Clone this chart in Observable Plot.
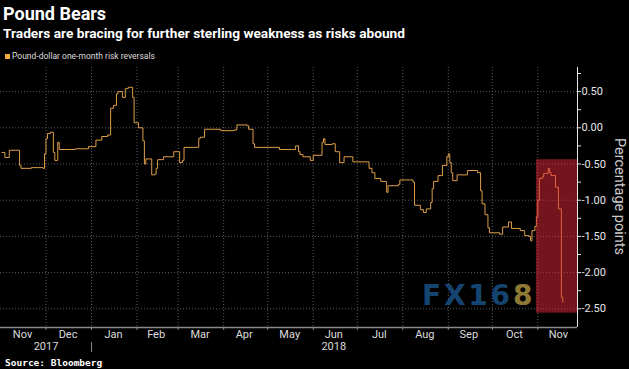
<!DOCTYPE html>
<html><head><meta charset="utf-8">
<script src="https://cdn.jsdelivr.net/npm/d3@7"></script>
<script src="https://cdn.jsdelivr.net/npm/@observablehq/plot@0.6"></script>
<style>
html,body{margin:0;padding:0;background:#000;width:629px;height:369px;overflow:hidden;font-family:Roboto,sans-serif;}
#wrap{position:relative;width:629px;height:369px;}
#title{position:absolute;left:3px;top:5px;font-weight:bold;font-size:18px;line-height:18px;color:#fff;white-space:nowrap;}
#subtitle{position:absolute;left:3px;top:26px;font-weight:bold;font-size:13.7px;line-height:14px;color:#fff;white-space:nowrap;}
#legend{position:absolute;left:5px;top:52px;font-size:8.5px;line-height:9px;color:#ddd;white-space:nowrap;}
#legend span.sw{display:inline-block;width:5px;height:5px;background:#f5a83c;margin-right:2px;vertical-align:0px;}
#chart{position:absolute;left:0;top:62px;}
#ylabel{position:absolute;left:611px;top:138px;writing-mode:vertical-rl;font-size:14.5px;line-height:16px;color:#ccc;white-space:nowrap;}
#source{position:absolute;left:5px;top:357px;font-family:"DejaVu Sans Mono",monospace;font-weight:bold;font-size:9.5px;line-height:11px;color:#fff;white-space:nowrap;}
#wm{position:absolute;left:422px;top:281px;font-family:"DejaVu Sans",sans-serif;font-weight:bold;font-size:28px;line-height:30px;letter-spacing:2.8px;white-space:nowrap;}
#wm .b{color:#154470;}
#wm .g{color:#8f7834;}
</style></head>
<body><div id="wrap">
<div id="title">Pound Bears</div>
<div id="subtitle">Traders are bracing for further sterling weakness as risks abound</div>
<div id="legend"><span class="sw"></span>Pound-dollar one-month risk reversals</div>
<div id="chart"></div>
<div id="ylabel">Percentage points</div>
<div id="wm"><span class="b">FX16</span><span class="g">8</span></div>
<div id="source">Source: Bloomberg</div>
</div>
<script>
const dates = ["2017-11-01","2017-11-03","2017-11-06","2017-11-13","2017-11-14","2017-11-21","2017-11-29","2017-11-30",
"2017-12-01","2017-12-02","2017-12-04","2017-12-06","2017-12-07","2017-12-09","2017-12-10","2017-12-21","2017-12-30",
"2018-01-04","2018-01-08","2018-01-12","2018-01-14","2018-01-16","2018-01-18","2018-01-19","2018-01-22","2018-01-24","2018-01-26","2018-01-29","2018-01-30",
"2018-02-02","2018-02-05","2018-02-06","2018-02-07","2018-02-11","2018-02-13","2018-02-14","2018-02-15","2018-02-19","2018-02-26",
"2018-03-02","2018-03-04","2018-03-05","2018-03-14","2018-03-15","2018-03-16","2018-03-19","2018-03-30",
"2018-04-08","2018-04-10","2018-04-17","2018-04-18","2018-04-21","2018-04-22",
"2018-05-07","2018-05-09","2018-05-18","2018-05-20","2018-05-22","2018-05-23","2018-05-25","2018-05-30",
"2018-06-01","2018-06-07","2018-06-08","2018-06-09","2018-06-14","2018-06-16","2018-06-19","2018-06-22","2018-06-26","2018-06-28",
"2018-07-08","2018-07-09","2018-07-11","2018-07-13","2018-07-17","2018-07-21","2018-07-22","2018-07-29","2018-07-30",
"2018-08-08","2018-08-09","2018-08-13","2018-08-15","2018-08-17","2018-08-20","2018-08-21","2018-08-22","2018-08-25","2018-08-28","2018-08-31",
"2018-09-01","2018-09-02","2018-09-03","2018-09-04","2018-09-07","2018-09-14","2018-09-21","2018-09-23","2018-09-24","2018-09-26","2018-09-28","2018-09-29",
"2018-10-06","2018-10-08","2018-10-12","2018-10-14","2018-10-20","2018-10-23","2018-10-26","2018-10-27","2018-10-28","2018-10-30","2018-10-31",
"2018-11-01","2018-11-02","2018-11-04","2018-11-05","2018-11-07","2018-11-08","2018-11-09","2018-11-10","2018-11-13","2018-11-15","2018-11-17","2018-11-18"];
const values = [-0.34,-0.41,-0.31,-0.52,-0.56,-0.55,-0.56,-0.36,
-0.15,-0.08,-0.06,-0.34,-0.45,-0.20,-0.30,-0.29,-0.26,
-0.17,-0.12,-0.10,0.27,0.31,0.47,0.50,0.42,0.54,0.56,0.42,0.07,
0.00,-0.18,-0.50,-0.43,-0.65,-0.64,-0.56,-0.44,-0.40,-0.33,
-0.48,-0.45,-0.27,-0.27,-0.15,-0.13,-0.02,-0.04,
-0.03,0.04,0.03,-0.02,-0.22,-0.27,
-0.27,-0.30,-0.30,-0.25,-0.33,-0.37,-0.40,-0.45,
-0.38,-0.20,-0.15,-0.23,-0.22,-0.33,-0.48,-0.40,-0.40,-0.47,
-0.47,-0.56,-0.62,-0.70,-0.74,-0.89,-0.80,-0.78,-0.72,
-0.75,-1.07,-1.13,-1.17,-1.12,-1.03,-0.84,-0.74,-0.66,-0.52,-0.40,
-0.36,-0.48,-0.62,-0.73,-0.65,-0.59,-0.62,-0.87,-1.05,-1.20,-1.38,-1.45,
-1.47,-1.37,-1.30,-1.39,-1.42,-1.49,-1.50,-1.56,-1.42,-1.36,-1.23,
-1.00,-0.70,-0.68,-0.63,-0.63,-0.56,-0.62,-0.66,-0.82,-1.12,-2.34,-2.41];

const xDomain = ["2017-10-31","2018-11-28"];
const yDomain = [-2.758, 0.833];
const yTicks = [-2.5,-2.0,-1.5,-1.0,-0.5,0.0,0.5];
const yMinorTicks = [-2.25,-1.75,-1.25,-0.75,-0.25,0.25,0.75];
const monthStarts = ["2017-12-01","2018-01-01","2018-02-01","2018-03-01","2018-04-01","2018-05-01","2018-06-01","2018-07-01","2018-08-01","2018-09-01","2018-10-01","2018-11-01"];
const monthMids = ["2017-11-15","2017-12-16","2018-01-16","2018-02-14","2018-03-16","2018-04-15","2018-05-16","2018-06-15","2018-07-16","2018-08-16","2018-09-15","2018-10-16","2018-11-15"];
const monthLabels = ["Nov","Dec","Jan","Feb","Mar","Apr","May","Jun","Jul","Aug","Sep","Oct","Nov"];
const yearMids = ["2017-12-01","2018-06-15"];
const yearLabels = ["2017","2018"];
const yearBreaks = ["2018-01-01"];
const boxX = ["2018-10-31","2018-11-28"];
const boxY = [-0.44, -2.56];

const D = s => new Date(s);
const data = dates.map((d,i) => ({date: D(d), value: values[i]}));
const monthLabelMap = new Map(monthMids.map((d,i)=>[+D(d), monthLabels[i]]));
const yearLabelMap = new Map(yearMids.map((d,i)=>[+D(d), yearLabels[i]]));
const box = [{x1: D(boxX[0]), x2: D(boxX[1]), y1: boxY[0], y2: boxY[1]}];

const chart = Plot.plot({
  width: 629, height: 293,
  marginLeft: 0, marginRight: 52, marginTop: 5, marginBottom: 28,
  style: {background: "transparent", color: "#ddd", fontFamily: "Roboto, sans-serif", fontSize: "11px"},
  x: {type: "utc", domain: xDomain.map(D)},
  y: {domain: yDomain},
  marks: [
    Plot.gridY(yTicks, {stroke: "#5a5a5a", strokeOpacity: 1, strokeDasharray: "1,2"}),
    Plot.gridX(monthStarts.map(D), {stroke: "#5a5a5a", strokeOpacity: 1, strokeDasharray: "1,2"}),
    Plot.line(data, {x: "date", y: "value", stroke: "#de9e4a", strokeWidth: 1, curve: "step-after"}),
    Plot.rect(box, {x1: "x1", x2: "x2", y1: "y1", y2: "y2", fill: "#e8283a", fillOpacity: 0.5}),
    Plot.ruleY([yDomain[0]], {stroke: "#8a8a8a", strokeWidth: 1.5}),
    Plot.ruleX([D(xDomain[1])], {stroke: "#e6e6e6", strokeWidth: 1}),
    Plot.axisY(yTicks, {anchor: "right", tickSize: 3, tickPadding: 1, tickFormat: d => d.toFixed(2), label: null, stroke: "#e6e6e6", fill: "#e6e6e6"}),
    Plot.axisY(yMinorTicks, {anchor: "right", tickSize: 3, tickFormat: () => "", label: null, stroke: "#e6e6e6"}),
    Plot.axisX(monthMids.map(D), {anchor: "bottom", tickSize: 0, tickPadding: 3, tickFormat: d => monthLabelMap.get(+d), label: null, fill: "#dcdcdc"}),
    Plot.axisX(monthStarts.map(D), {anchor: "bottom", tickSize: 3, tickFormat: () => "", label: null, stroke: "#8a8a8a"}),
    Plot.axisX(yearMids.map(D), {anchor: "bottom", tickSize: 0, tickPadding: 15, tickFormat: d => yearLabelMap.get(+d), label: null, fill: "#dcdcdc"}),
    Plot.ruleX(yearBreaks.map(D), {y1: yDomain[0], y2: yDomain[0], insetTop: 15, insetBottom: -25, stroke: "#8a8a8a"})
  ]
});
document.getElementById("chart").appendChild(chart);
</script>
</body></html>
